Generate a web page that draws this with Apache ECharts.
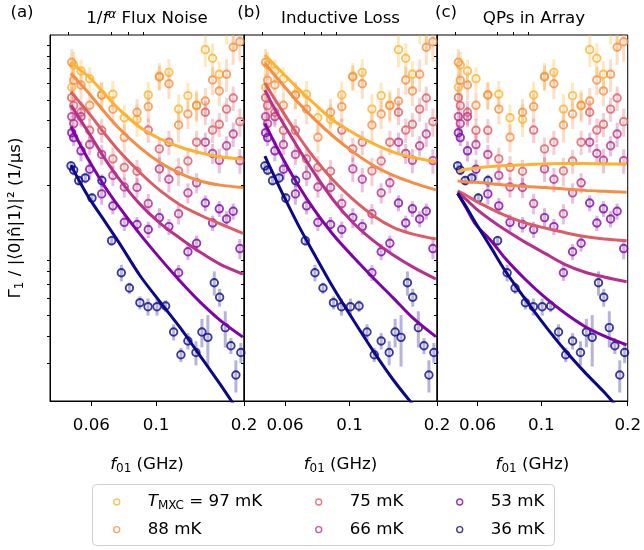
<!DOCTYPE html>
<html><head><meta charset="utf-8">
<script src="https://cdn.jsdelivr.net/npm/echarts@6/dist/echarts.min.js"></script>
<style>html,body{margin:0;padding:0;background:#fff}#c{width:644px;height:550px}</style>
</head><body><div id="c"></div>
<script>
// ---------- data ----------
const seriesNames = ['97', '88', '75', '66', '53', '36'];
const seriesColors = ['#fdb32f', '#f68d45', '#dc5d67', '#b6318b', '#7f04a8', '#0d0887'];

// shared frequency grid (GHz) for 97..53 mK
const freqs = [0.0514,0.0522,0.0553,0.0592,0.0651,0.0711,0.0778,0.0860,0.0940,0.1026,0.1106,0.1194,0.1285,0.1376,0.1474,0.1561,0.1646,0.1743,0.1837,0.1936];
const rate97 = [5.72,7.26,6.81,6.27,5.27,5.31,4.13,4.06,5.27,6.45,6.71,4.53,5.23,4.73,8.55,7.80,6.57,11.5,10.8,12.4];
const err97  = [0.86,1.09,0.87,0.81,0.79,0.80,0.62,0.70,0.79,0.97,1.01,0.78,0.78,0.81,1.46,1.34,0.98,2.46,2.31,2.65];
const rate88 = [7.47,6.16,5.86,4.72,5.27,4.53,3.35,4.38,4.65,6.38,5.94,3.82,4.30,4.70,4.94,6.18,5.50,6.57,8.77,9.31];
const err88  = [1.12,0.92,0.88,0.71,0.73,0.68,0.50,0.66,0.70,0.82,0.89,0.65,0.64,0.70,0.74,0.93,0.82,1.13,1.50,1.79];
const rate75 = [5.12,4.70,4.38,3.61,3.61,2.66,2.43,2.33,3.62,2.96,3.18,2.34,2.60,3.18,4.38,3.62,3.85,4.53,5.10,3.96];
const err75  = [0.66,0.60,0.56,0.46,0.46,0.34,0.31,0.30,0.47,0.38,0.41,0.35,0.33,0.41,0.56,0.47,0.49,0.58,0.66,0.59];
const rate66 = [4.18,3.88,4.18,3.10,2.79,2.23,1.97,1.96,1.65,2.39,2.14,1.48,1.85,2.06,3.18,2.82,2.62,3.06,3.47,2.61];
const err66  = [0.45,0.42,0.45,0.33,0.30,0.24,0.21,0.21,0.18,0.31,0.28,0.16,0.20,0.22,0.34,0.30,0.34,0.33,0.45,0.34];
const rate53 = [3.52,3.34,2.90,2.38,1.83,1.61,1.35,1.32,1.25,1.42,1.29,0.788,0.986,1.08,1.66,1.34,1.56,1.40,1.52,1.02];
const err53  = [0.30,0.29,0.31,0.26,0.20,0.14,0.12,0.11,0.11,0.15,0.11,0.067,0.084,0.092,0.14,0.11,0.13,0.12,0.13,0.11];
// 36 mK has its own frequency grid
const freqs36 = [0.0511,0.0522,0.0543,0.0572,0.0603,0.0652,0.0704,0.0760,0.0810,0.0880,0.0938,0.1007,0.1078,0.1148,0.1216,0.1285,0.1369,0.1435,0.1504,0.1582,0.1650,0.1725,0.1804,0.1876,0.1951];
const rate36 = [2.47,2.36,2.11,2.17,1.75,2.11,1.11,0.788,0.669,0.572,0.548,0.548,0.552,0.418,0.328,0.380,0.336,0.418,0.395,0.708,0.606,0.438,0.361,0.264,0.336];
const err36  = [0.13,0.13,0.11,0.12,0.09,0.14,0.06,0.07,0.04,0.04,0.05,0.05,0.035,0.036,0.025,0.033,0.043,0.063,0.106,0.091,0.058,0.084,0.031,0.045,0.036];

// fit curves, sampled frequencies (GHz)
const fitFreqs = [0.0511,0.0548,0.0593,0.0668,0.0752,0.0880,0.1030,0.1207,0.1413,0.1654,0.1982];
// (a) 1/f^alpha flux noise
const fitA97 = [7.45,6.91,6.33,5.31,4.48,3.73,3.30,3.02,2.84,2.72,2.65];
const fitA88 = [6.64,5.97,5.30,4.37,3.65,3.00,2.56,2.28,2.10,2.01,1.96];
const fitA75 = [5.45,4.86,4.28,3.47,2.86,2.30,1.90,1.63,1.46,1.33,1.20];
const fitA66 = [4.73,4.07,3.45,2.66,2.12,1.64,1.34,1.14,0.983,0.864,0.777];
const fitA53 = [3.75,3.12,2.57,1.97,1.57,1.19,0.921,0.721,0.577,0.475,0.396];
const fitA36 = [2.49,2.08,1.73,1.36,1.07,0.765,0.578,0.439,0.325,0.240,0.167];
// (b) inductive loss
const fitB97 = [8.07,7.33,6.59,5.61,4.83,4.01,3.51,3.13,2.86,2.70,2.58];
const fitB88 = [7.39,6.59,5.81,4.83,4.10,3.38,2.86,2.48,2.23,2.06,1.91];
const fitB75 = [5.97,5.13,4.34,3.38,2.71,2.11,1.72,1.45,1.28,1.19,1.13];
const fitB66 = [5.55,4.63,3.86,2.96,2.31,1.71,1.34,1.11,0.952,0.837,0.737];
const fitB53 = [3.89,3.22,2.63,1.99,1.56,1.18,0.932,0.745,0.602,0.485,0.398];
const fitB36 = [2.74,2.24,1.79,1.30,0.973,0.669,0.475,0.341,0.251,0.192,0.144];
// (c) QPs in array
const fitC97 = [2.32,2.38,2.41,2.45,2.48,2.50,2.52,2.53,2.53,2.52,2.51];
const fitC88 = [2.10,2.08,2.07,2.04,2.01,1.98,1.96,1.93,1.90,1.88,1.86];
const fitC75 = [1.89,1.80,1.69,1.56,1.45,1.34,1.27,1.21,1.16,1.13,1.11];
const fitC66 = [1.87,1.72,1.56,1.38,1.24,1.09,0.969,0.862,0.794,0.753,0.716];
const fitC53 = [1.84,1.57,1.31,1.11,0.912,0.733,0.605,0.512,0.445,0.401,0.364];
const fitC36 = [1.84,1.59,1.33,1.03,0.796,0.593,0.448,0.345,0.273,0.220,0.167];

// axes
const xMin = 0.0433, xMax = 0.2;
const yMin = 0.2, yMax = 10;
const xMajorTicks = [0.06, 0.1, 0.2];
const xMajorLabels = ['0.06', '0.1', '0.2'];
const xMinorTicks = [0.05, 0.07, 0.08, 0.09];
const yMinorTicks = [0.3,0.4,0.5,0.6,0.7,0.8,0.9,2,3,4,5,6,7,8,9];
const panelTitles = ['1/{i|f}{sup|α} Flux Noise', 'Inductive Loss', 'QPs in Array'];
const panelLetters = ['(a)', '(b)', '(c)'];

// ---------- build ----------
const FONT = 'DejaVu Sans';
const FS = 16.7;
const dataX = [freqs, freqs, freqs, freqs, freqs, freqs36];
const dataY = [rate97, rate88, rate75, rate66, rate53, rate36];
const dataE = [err97, err88, err75, err66, err53, err36];
const fits = [
  [fitA97, fitA88, fitA75, fitA66, fitA53, fitA36],
  [fitB97, fitB88, fitB75, fitB66, fitB53, fitB36],
  [fitC97, fitC88, fitC75, fitC66, fitC53, fitC36]
];
const grids = [
  {left: 50, top: 35, width: 194, height: 366},
  {left: 244, top: 35, width: 193, height: 366},
  {left: 437, top: 35, width: 194, height: 366}
];

const richBase = {
  i: {fontStyle: 'italic', fontSize: FS, fontFamily: FONT, lineHeight: 20},
  s: {fontSize: 12, fontFamily: FONT, verticalAlign: 'bottom', lineHeight: 13},
  sup: {fontStyle: 'italic', fontSize: 12, fontFamily: FONT, verticalAlign: 'top', lineHeight: 13},
  n: {fontSize: FS, fontFamily: FONT, lineHeight: 20}
};

const xAxes = [], yAxes = [], series = [];
for (let p = 0; p < 3; p++) {
  xAxes.push({
    type: 'log', gridIndex: p, min: xMin, max: xMax,
    axisLine: {show: true, lineStyle: {color: '#000', width: 1}},
    axisTick: {show: true, customValues: xMajorTicks, length: 5, lineStyle: {color: '#000', width: 1}},
    axisLabel: {show: true, customValues: xMajorTicks, margin: 16, fontSize: FS, fontFamily: FONT, color: '#000',
      formatter: v => { let best = 0; xMajorTicks.forEach((t, k) => { if (Math.abs(Math.log(t / v)) < Math.abs(Math.log(xMajorTicks[best] / v))) best = k; }); return xMajorLabels[best]; }},
    splitLine: {show: false}, minorTick: {show: false},
    name: '{i|f}{s|01} (GHz)', nameLocation: 'middle', nameGap: 54,
    nameTextStyle: {fontSize: FS, fontFamily: FONT, color: '#000', lineHeight: 20, rich: richBase}
  });
  xAxes.push({
    type: 'log', gridIndex: p, min: xMin, max: xMax,
    axisLine: {show: false},
    axisTick: {show: true, customValues: xMinorTicks, length: 3, lineStyle: {color: '#000', width: 1}},
    axisLabel: {show: false}, splitLine: {show: false}
  });
  yAxes.push({
    type: 'log', gridIndex: p, min: yMin, max: yMax,
    axisLine: {show: true, lineStyle: {color: '#000', width: 1}},
    axisTick: {show: true, customValues: yMinorTicks, length: 3, lineStyle: {color: '#000', width: 1}},
    axisLabel: {show: false}, splitLine: {show: false},
    name: p === 0 ? 'Γ{s|1} / |⟨0|n̂|1⟩|² (1/μs)' : '',
    nameLocation: 'middle', nameRotate: 90, nameGap: 24,
    nameTextStyle: {fontSize: FS, fontFamily: FONT, color: '#000', lineHeight: 20, rich: richBase}
  });

  for (let k = 0; k < 6; k++) {
    const color = seriesColors[k];
    const pts = dataX[k].map((x, i) => [x, dataY[k][i], dataE[k][i]]);
    series.push({
      type: 'custom', name: 'err' + seriesNames[k], xAxisIndex: p * 2, yAxisIndex: p,
      data: pts, clip: true, z: 1, silent: true, encode: {x: 0, y: 1},
      renderItem: (params, api) => {
        const x = api.value(0), y = api.value(1), e = api.value(2);
        const a = api.coord([x, Math.max(y - e, 1e-3)]);
        const b = api.coord([x, y + e]);
        return {type: 'line', shape: {x1: a[0], y1: a[1], x2: b[0], y2: b[1]},
          style: {stroke: color, lineWidth: 3, opacity: 0.3}};
      }
    });
    series.push({
      type: 'scatter', name: seriesNames[k], xAxisIndex: p * 2, yAxisIndex: p,
      data: pts.map(q => [q[0], q[1]]), symbol: 'circle', symbolSize: 7.5, clip: true, z: 2, silent: true,
      itemStyle: {color: 'rgba(255,255,255,0)', borderColor: color, borderWidth: 1.9}
    });
    series.push({
      type: 'line', name: 'fit' + seriesNames[k], xAxisIndex: p * 2, yAxisIndex: p,
      data: fitFreqs.map((x, i) => [x, fits[p][k][i]]), showSymbol: false, symbol: 'none',
      smooth: 0.3, clip: true, z: 3, silent: true,
      lineStyle: {color: color, width: 3}
    });
  }
}

function legendFor(names, left) {
  return {
    left: left, top: 487, orient: 'vertical', selectedMode: false,
    itemWidth: 52, itemHeight: 6, itemGap: 7.6, z: 10,
    data: names.map(n => ({name: n, icon: 'circle',
      itemStyle: {color: '#ffffff', borderColor: seriesColors[seriesNames.indexOf(n)], borderWidth: 1.4}})),
    formatter: n => n === '97' ? '{i|T}{s|MXC}{n| = 97 mK}' : n + ' mK',
    textStyle: {fontSize: FS, fontFamily: FONT, color: '#000', lineHeight: 20, rich: richBase}
  };
}

const graphics = [
  {type: 'rect', z: 5, shape: {x: 92.5, y: 484.5, width: 462, height: 61, r: 4},
   style: {fill: '#ffffff', stroke: '#d0d0d0', lineWidth: 1}}
];
const letterX = [22, 249, 446];
const titleX = [147, 340.5, 534];
for (let p = 0; p < 3; p++) {
  graphics.push({type: 'text', z: 10, x: letterX[p], y: 13,
    style: {text: panelLetters[p], font: FS + 'px "' + FONT + '"', fill: '#000', align: 'center', verticalAlign: 'middle'}});
  graphics.push({type: 'text', z: 10, x: titleX[p], y: 19,
    style: {text: panelTitles[p], font: FS + 'px "' + FONT + '"', fill: '#000', align: 'center', verticalAlign: 'middle',
      rich: richBase}});
}

const chart = echarts.init(document.getElementById('c'), null, {renderer: 'canvas', width: 644, height: 550});
chart.setOption({
  animation: false,
  backgroundColor: '#ffffff',
  grid: grids.map(g => Object.assign({show: true, borderColor: '#000', borderWidth: 1, backgroundColor: 'transparent', containLabel: false}, g)),
  xAxis: xAxes,
  yAxis: yAxes,
  legend: [legendFor(['97', '88'], 108), legendFor(['75', '66'], 310), legendFor(['53', '36'], 451)],
  graphic: graphics,
  series: series
});
</script>
</body></html>
